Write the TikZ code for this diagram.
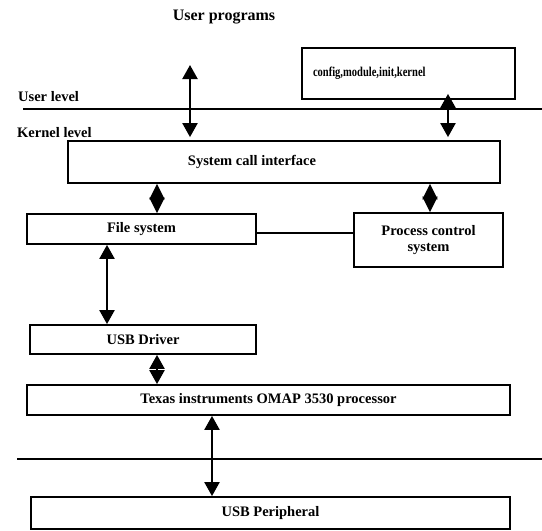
\documentclass[tikz,border=0pt]{standalone}
\usepackage{fontspec}
\setmainfont{Liberation Serif}
\usetikzlibrary{arrows.meta}

\begin{document}
\begin{tikzpicture}[x=1pt, y=-1pt, >={Triangle[length=14pt,width=15pt]},
  blk/.style={draw, line width=1.8pt, inner sep=0pt, font=\bfseries\fontsize{14.5}{16}\selectfont},
  lbl/.style={inner sep=0pt, font=\bfseries\fontsize{14.5}{16}\selectfont},
  link/.style={<->, line width=2.2pt},
  dmd/.style={{Triangle[length=15.5pt,width=15pt]}-{Triangle[length=15.5pt,width=15pt]}, line width=2.2pt}]
\useasboundingbox (0,0) rectangle (542,531);
\node [lbl, font=\bfseries\fontsize{16}{18}\selectfont] (prog) at (224,17) {User programs};
\node [blk, minimum width=213pt, minimum height=51pt, text width=191pt, align=left] (cfg) at (408.5,73.5) {\scalebox{0.78}[1]{\fontsize{13.5}{15}\selectfont config,module,init,kernel}};
\node [lbl, anchor=west] (ulvl) at (18,97) {User level};
\node [lbl, anchor=west] (klvl) at (17,133) {Kernel level};
\draw [line width=1.6pt] (23,109) -- (542,109);
\node [blk, minimum width=432pt, minimum height=42pt] (sys) at (284,162) {};
\node [lbl] (systxt) at (252,162) {System call interface};
\node [blk, minimum width=229pt, minimum height=30pt] (fs) at (141.5,229) {File system};
\node [blk, minimum width=149pt, minimum height=54pt, align=center] (pcs) at (428.5,240) {Process control\\system};
\node [blk, minimum width=226pt, minimum height=29pt] (drv) at (143,339.5) {USB Driver};
\node [blk, minimum width=483pt, minimum height=30pt] (ti) at (268.5,400) {Texas instruments OMAP 3530 processor};
\draw [line width=1.6pt] (17,459) -- (542,459);
\node [blk, minimum width=479pt, minimum height=32pt] (per) at (270.5,513) {USB Peripheral};
\coordinate (up) at (190,65);
\draw [link, shorten >=3pt] (up) -- (up |- sys.north);
\draw [link, shorten <=-6pt, shorten >=3pt] (448,0 |- cfg.south) -- (448,0 |- sys.north);
\draw [dmd] (157,0 |- sys.south) -- (157,0 |- fs.north);
\draw [dmd] (430,0 |- sys.south) -- (430,0 |- pcs.north);
\draw [line width=1.4pt] ([yshift=-4pt]fs.east) -- ([yshift=-4pt]fs.east -| pcs.west);
\draw [link] (107,0 |- fs.south) -- (107,0 |- drv.north);
\draw [link] (157,0 |- drv.south) -- (157,0 |- ti.north);
\draw [link] (212,0 |- ti.south) -- (212,0 |- per.north);
\end{tikzpicture}
\end{document}
